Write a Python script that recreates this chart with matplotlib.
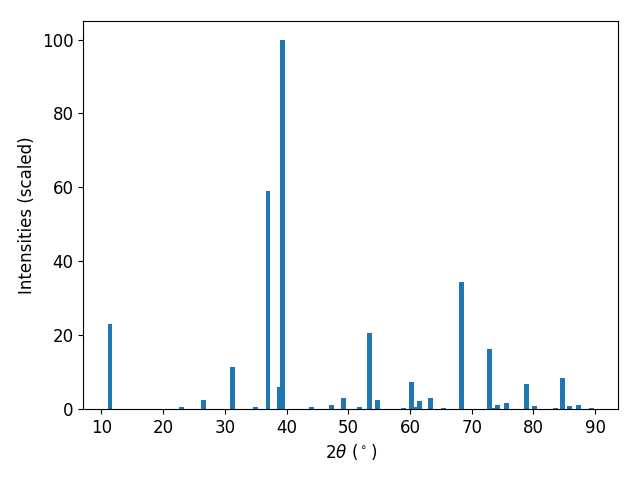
import numpy as np
import matplotlib
matplotlib.use("Agg")
import matplotlib.pyplot as plt

plt.rcParams['font.size'] = 12

# peak positions (2theta, degrees) and scaled intensities
two_theta = [11.4, 23.05, 26.6, 31.3, 35.0, 37.0, 38.9, 39.4, 44.1, 47.3,
             49.3, 51.85, 53.4, 54.75, 59.0, 60.3, 60.85, 61.55, 63.3, 65.4,
             68.35, 72.9, 73.5, 74.2, 75.6, 78.9, 80.2, 83.6, 84.7, 85.8,
             87.3, 89.4]
intensity = [23.0, 0.55, 2.4, 11.4, 0.55, 59.1, 6.0, 100.0, 0.55, 1.1,
             3.0, 0.55, 20.7, 2.4, 0.27, 7.3, 0.55, 2.2, 3.0, 0.27,
             34.4, 16.3, 0.27, 1.1, 1.6, 6.8, 0.8, 0.27, 8.4, 0.8,
             1.1, 0.27]

fig, ax = plt.subplots(figsize=(6.4, 4.8), dpi=100)
ax.bar(two_theta, intensity, width=0.8)
ax.set_xlabel(r"2$\theta$ ($^\circ$)")
ax.set_ylabel("Intensities (scaled)")
fig.subplots_adjust(left=0.13, right=0.966, bottom=0.148, top=0.956)
plt.savefig("out.png")
